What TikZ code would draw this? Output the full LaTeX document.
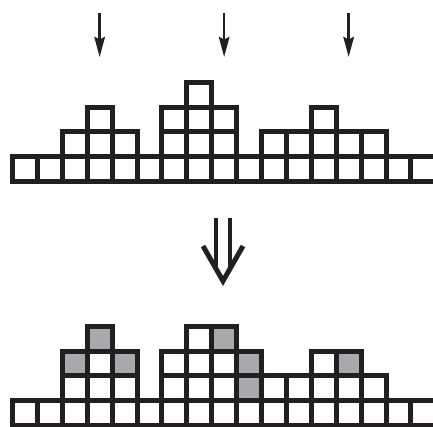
\documentclass[tikz,border=0pt]{standalone}
\usetikzlibrary{arrows.meta}
\definecolor{ink}{HTML}{231F20}
\definecolor{grain}{HTML}{A7A9AC}
\begin{document}
\begin{tikzpicture}[x=1pt,y=-1pt,
  cellline/.style={draw=ink,line width=5pt},
  graincell/.style={fill=grain},
  droparrow/.style={draw=ink,line width=2.6pt,-{Stealth[length=20pt,width=10.5pt,inset=2.5pt]}},
  bigline/.style={draw=ink,line width=4.2pt}]
\useasboundingbox (0,0) rectangle (433,427);
\clip (0,0) rectangle (433,427);
\def\P{24.9}
% grains of the lower figure
\foreach \k/\r in {2/2,3/3,4/2,8/3,9/1,9/2,13/2} {
  \fill[graincell] ({12.5+\P*\k},{425.7-\P*\r}) rectangle ++(\P,-\P);
}
% upper pile
\foreach \k/\h in {0/1,1/1,2/2,3/3,4/2,5/1,6/3,7/4,8/3,9/1,10/2,11/2,12/3,13/2,14/2,15/1,16/1} {
  \foreach \r in {1,...,\h} {
    \draw[cellline] ({12.5+\P*\k},{181.8-\P*(\r-1)}) rectangle ++(\P,-\P);
  }
}
% lower pile
\foreach \k/\h in {0/1,1/1,2/3,3/4,4/3,5/1,6/3,7/4,8/4,9/3,10/2,11/2,12/3,13/3,14/2,15/1,16/1} {
  \foreach \r in {1,...,\h} {
    \draw[cellline] ({12.5+\P*\k},{425.7-\P*(\r-1)}) rectangle ++(\P,-\P);
  }
}
% drop arrows
\foreach \k [count=\i] in {3,8,13} {
  \coordinate (s\i) at ({12.5+\P*(\k+0.5)},13);
  \coordinate (e\i) at ({12.5+\P*(\k+0.5)},57);
  \draw[droparrow] (s\i) -- (e\i);
}
% double arrow
\coordinate (dl) at (203,246);
\coordinate (dt) at (223,281);
\coordinate (dr) at (243,246);
\coordinate (sl1) at (216,218);
\coordinate (sl2) at (216,270);
\coordinate (sr1) at (230,218);
\coordinate (sr2) at (230,270);
\draw[bigline] (sl1) -- (sl2);
\draw[bigline] (sr1) -- (sr2);
\draw[draw=ink,line width=5pt,miter limit=20] (dl) -- (dt) -- (dr);
\end{tikzpicture}
\end{document}
